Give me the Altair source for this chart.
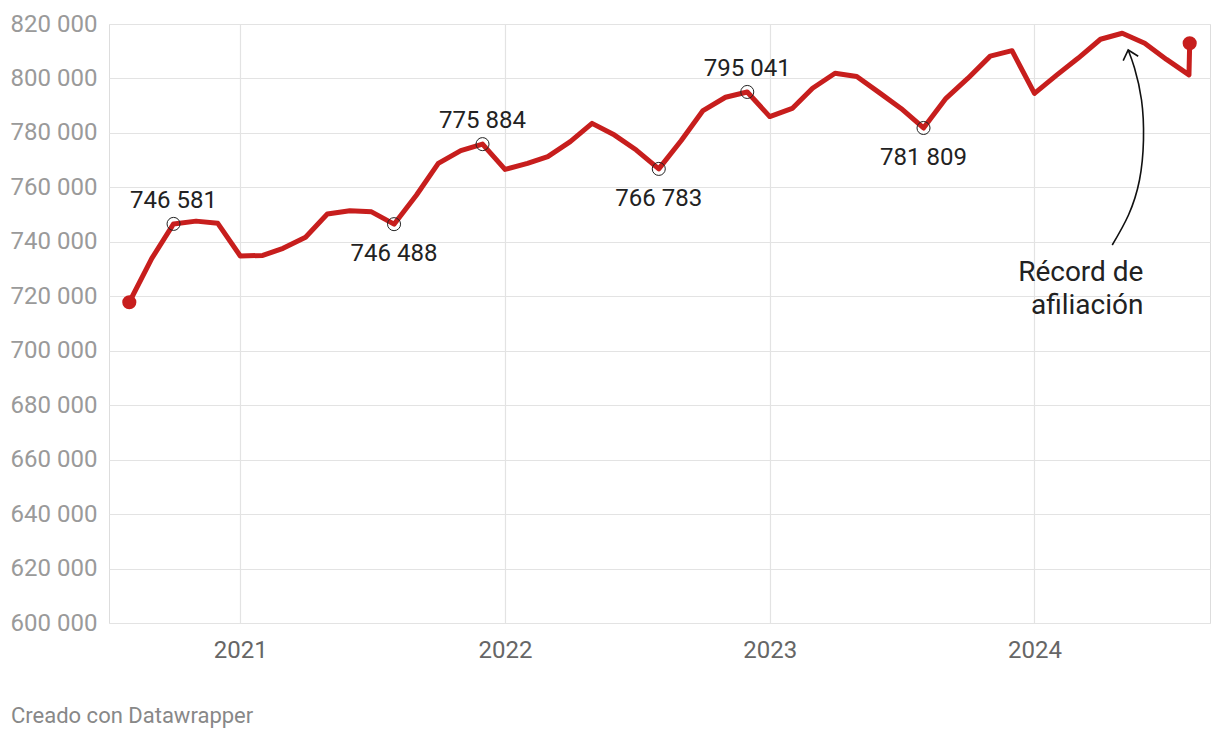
import altair as alt
import pandas as pd

# ---- data -------------------------------------------------------------
month_dates = [d.strftime("%Y-%m-%dT00:00:00") for d in pd.date_range("2020-08-01", "2024-08-01", freq="MS")]
dates = month_dates + ["2024-08-02T00:00:00"]
values = [
    717800, 733900, 746581, 747600, 746800,            # 2020 Aug-Dec
    734800, 735000, 737600, 741700, 750200, 751400,    # 2021 Jan-Jun
    751000, 746488, 757200, 768800, 773500, 775884,    # 2021 Jul-Dec
    766600, 768800, 771300, 776800, 783500, 779200,    # 2022 Jan-Jun
    773700, 766783, 777200, 788200, 793100, 795041,    # 2022 Jul-Dec
    786000, 789000, 796400, 801900, 800700, 794800,    # 2023 Jan-Jun
    789000, 781809, 792700, 800000, 808200, 810200,    # 2023 Jul-Dec
    794500, 801300, 807400, 814400, 816600, 812900,    # 2024 Jan-Jun
    807000, 801300, 812900,                            # 2024 Jul, Aug, last
]

labeled_dates = ["2020-10-01T00:00:00", "2021-08-01T00:00:00", "2021-12-01T00:00:00",
                 "2022-08-01T00:00:00", "2022-12-01T00:00:00", "2023-08-01T00:00:00"]
labeled_values = [746581, 746488, 775884, 766783, 795041, 781809]
labeled_side = ["above", "below", "above", "below", "above", "below"]

end_dates = [dates[0], dates[-1]]
end_values = [values[0], values[-1]]

# annotation arrow (curved), in data coordinates
arrow_dates = ["2024-04-17T05:00:00", "2024-05-09T15:00:00", "2024-05-24T19:00:00",
               "2024-05-30T07:00:00", "2024-05-27T14:00:00", "2024-05-17T22:00:00",
               "2024-05-09T05:00:00"]
arrow_values = [738833, 749850, 762705, 777396, 792087, 803840, 810451]
head_dates = ["2024-05-02T07:00:00", "2024-05-09T05:00:00", "2024-05-23T00:00:00"]
head_values = [806522, 810451, 808138]

note_text = "Récord de\nafiliación"
note_date = "2024-05-30T07:00:00"
note_value = 728500

credit = "Creado con Datawrapper"

y_ticks = list(range(600000, 820001, 20000))
x_ticks = [alt.DateTime(year=y, month=1, date=1) for y in (2021, 2022, 2023, 2024)]

# ---- frames -----------------------------------------------------------
df = pd.DataFrame({"date": dates, "value": values})
df_lab = pd.DataFrame({"date": labeled_dates, "value": labeled_values, "side": labeled_side})
df_end = pd.DataFrame({"date": end_dates, "value": end_values})
df_arrow = pd.DataFrame({"date": arrow_dates, "value": arrow_values, "i": list(range(len(arrow_dates)))})
df_head = pd.DataFrame({"date": head_dates, "value": head_values, "i": list(range(len(head_dates)))})
df_note = pd.DataFrame({"date": [note_date], "value": [note_value], "t": [note_text]})
df_credit = pd.DataFrame({"t": [credit]})

RED = "#c71e1d"
FONT = "Roboto"

x_enc = alt.X(
    "date:T",
    scale=alt.Scale(domain=[alt.DateTime(year=2020, month=7, date=4),
                            alt.DateTime(year=2024, month=8, date=30)]),
    axis=alt.Axis(values=x_ticks, format="%Y", title=None, domain=False, ticks=False,
                  labelFontSize=24, labelColor="#666666", labelPadding=15, labelFont=FONT,
                  grid=True, gridColor="#e3e3e3", gridWidth=1.2),
)
y_enc = alt.Y(
    "value:Q",
    scale=alt.Scale(domain=[600000, 820000], nice=False, zero=False),
    axis=alt.Axis(values=y_ticks, title=None, domain=False, ticks=False,
                  labelExpr="replace(format(datum.value, ','), ',', ' ')",
                  labelFontSize=24, labelColor="#9a9a9a", labelPadding=12, labelFont=FONT,
                  grid=True, gridColor="#e3e3e3", gridWidth=1.2),
)

line = alt.Chart(df).mark_line(color=RED, strokeWidth=5, strokeJoin="round").encode(x=x_enc, y=y_enc)

ends = alt.Chart(df_end).mark_point(filled=True, color=RED, size=200, opacity=1).encode(
    x="date:T", y="value:Q")

circles = alt.Chart(df_lab).mark_point(filled=False, color="#222222", size=170, strokeWidth=1, opacity=1).encode(
    x="date:T", y="value:Q")

lab_text = "replace(format(datum.value, ','), ',', ' ')"
above = alt.Chart(df_lab).transform_filter("datum.side == 'above'").transform_calculate(
    t=lab_text).mark_text(font=FONT, fontSize=24, color="#222222", dy=-23, baseline="middle").encode(
    x="date:T", y="value:Q", text="t:N")
below = alt.Chart(df_lab).transform_filter("datum.side == 'below'").transform_calculate(
    t=lab_text).mark_text(font=FONT, fontSize=24, color="#222222", dy=30, baseline="middle").encode(
    x="date:T", y="value:Q", text="t:N")

arrow = alt.Chart(df_arrow).mark_line(color="#111111", strokeWidth=1.6, interpolate="natural").encode(
    x="date:T", y="value:Q", order="i:Q")
head = alt.Chart(df_head).mark_line(color="#111111", strokeWidth=1.6).encode(
    x="date:T", y="value:Q", order="i:Q")

note = alt.Chart(df_note).mark_text(font=FONT, fontSize=28, color="#222222", align="right",
                                    baseline="middle", lineBreak="\n", lineHeight=33).encode(
    x="date:T", y="value:Q", text="t:N")

credit_mark = alt.Chart(df_credit).mark_text(font=FONT, fontSize=22, color="#888888", align="left",
                                             baseline="middle").encode(
    x=alt.value(-98), y=alt.value(692), text="t:N")

chart = alt.layer(line, arrow, head, circles, ends, above, below, note, credit_mark).properties(
    width=1101, height=599,
    padding={"left": 109, "top": 24, "right": 10, "bottom": 117},
    autosize="none",
    background="white",
).configure_view(stroke=None).configure(font=FONT)

chart.save("out.html", embed_options={"renderer": "svg", "actions": False})
